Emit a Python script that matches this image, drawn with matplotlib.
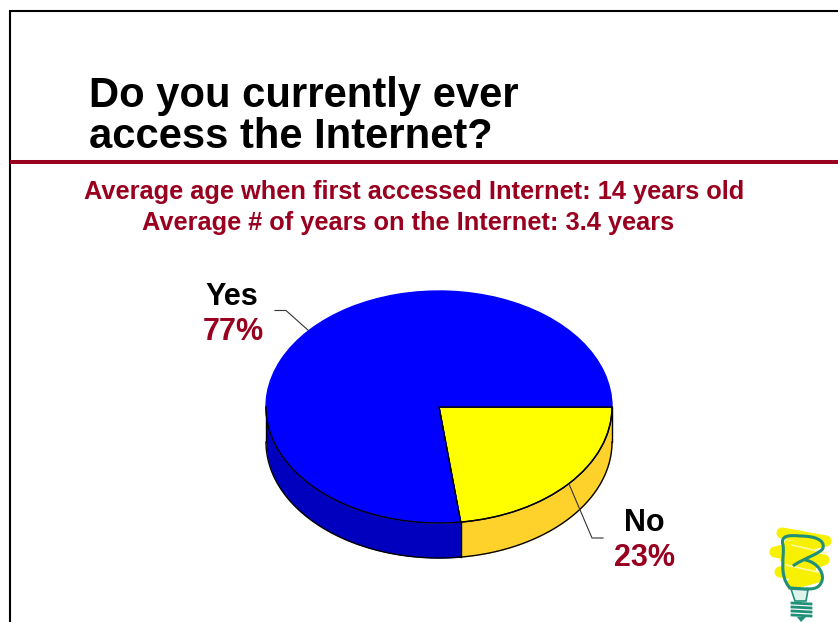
import numpy as np
import matplotlib
matplotlib.use("Agg")
import matplotlib.pyplot as plt
from matplotlib.patches import Polygon, PathPatch
from matplotlib.path import Path

plt.rcParams['font.family'] = ['Liberation Sans', 'DejaVu Sans']

categories = ["No", "Yes"]
shares = [23, 77]
title_lines = ["Do you currently ever", "access the Internet?"]
sub_lines = ["Average age when first accessed Internet: 14 years old",
             "Average # of years on the Internet: 3.4 years"]

RED = "#99001F"
TEAL = "#1F8F78"
W, H = 838, 622

fig = plt.figure(figsize=(W / 100, H / 100), dpi=100, facecolor="white")

# whole slide in pixel units, y pointing down
bg = fig.add_axes([0, 0, 1, 1])
bg.set_xlim(0, W)
bg.set_ylim(H, 0)
bg.axis("off")

bg.plot([10, 10, W], [H, 11, 11], color="black", lw=1.5, solid_joinstyle="miter", solid_capstyle="butt")
bg.plot([10, W], [162, 162], color=RED, lw=2.9, solid_capstyle="butt")

bg.text(89, 96, title_lines[0], fontsize=30.1, fontweight="bold", color="black", va="center", ha="left")
bg.text(89, 137, title_lines[1], fontsize=30.1, fontweight="bold", color="black", va="center", ha="left")
bg.text(414, 192, sub_lines[0], fontsize=18.3, fontweight="bold", color=RED, va="center", ha="center")
bg.text(408, 223, sub_lines[1], fontsize=18.3, fontweight="bold", color=RED, va="center", ha="center")

bg.text(232, 297, "Yes", fontsize=22, fontweight="bold", color="black", va="center", ha="center")
bg.text(233, 332, f"{shares[1]}%", fontsize=22, fontweight="bold", color=RED, va="center", ha="center")
bg.text(644, 523, "No", fontsize=22, fontweight="bold", color="black", va="center", ha="center")
bg.text(644, 558, f"{shares[0]}%", fontsize=22, fontweight="bold", color=RED, va="center", ha="center")

# pie with a wall below it, squashed by letting the axes keep a free aspect
left, right, top, rim, bottom = 266, 612, 291, 523, 558
ax = fig.add_axes([left / W, 1 - bottom / H, (right - left) / W, (bottom - top) / H])
depth = (bottom - rim) / ((rim - top) / 2)

no_end = -2 * np.pi * shares[0] / sum(shares)
t_no = np.linspace(0, no_end, 80)
t_yes = np.linspace(no_end, -np.pi, 120)
for t, col in [(t_no, "#FFD22B"), (t_yes, "#0000BE")]:
    ax.fill_between(np.cos(t), np.sin(t), np.sin(t) - depth, color=col, lw=0, zorder=1)
    ax.plot(np.cos(t), np.sin(t) - depth, color="black", lw=1.0, zorder=2)
for x in [np.cos(no_end), 1, -1]:
    y = np.sin(no_end) if x == np.cos(no_end) else 0
    ax.plot([x, x], [y, y - depth], color="black", lw=1.0, zorder=2)

wedges, _ = ax.pie(shares, startangle=0, counterclock=False, colors=["#FFFF00", "#0000FF"],
                   radius=1, wedgeprops={"edgecolor": "black", "linewidth": 1.0, "zorder": 3})
# the big slice has no outline along its top half, only the lower rim is edged
wedges[1].set_edgecolor("#0000FF")
ax.plot(np.cos(t_yes), np.sin(t_yes), color="black", lw=1.0, zorder=4)
ax.plot(np.cos(t_no), np.sin(t_no), color="black", lw=1.0, zorder=4)
ax.plot([1, 0, np.cos(no_end)], [0, 0, np.sin(no_end)], color="black", lw=1.0, zorder=4)
ax.set_aspect("auto")
ax.set_xlim(-1, 1)
ax.set_ylim(-1 - depth, 1)
ax.axis("off")
ax.patch.set_alpha(0)
for art in ax.get_children():
    art.set_clip_on(False)

# leader lines
bg.plot([275, 286, 309], [310.5, 310.5, 331], color="#333333", lw=0.8, zorder=5)
fig.add_artist(plt.Line2D([569 / W, 592 / W, 603 / W], [1 - 484 / H, 1 - 538 / H, 1 - 538 / H],
                          color="#333333", lw=0.8, zorder=5))

# bulb logo, yellow scribble first
bg.plot([782, 826, 775, 824, 780, 818, 792], [533, 541, 552, 560, 572, 577, 584],
        color="#F7F000", lw=8, solid_capstyle="round", solid_joinstyle="round", zorder=2)
bg.add_patch(Polygon([(785, 540), (815, 543), (816, 575), (790, 580), (780, 560)], closed=True,
                     facecolor="#F7F000", edgecolor="none", zorder=2))
bg.plot([792, 826], [545, 553], color="#FBFAA0", lw=1.2, zorder=3)
bg.plot([786, 822], [565, 573], color="#FBFAA0", lw=1.2, zorder=3)

M, C = Path.MOVETO, Path.CURVE4
upper = Path([(790, 588), (778, 575), (785, 555), (783, 545), (780, 535), (790, 535), (800, 536),
              (815, 536), (825, 540), (823, 548), (822, 553), (800, 560), (793, 566)],
             [M, C, C, C, C, C, C, C, C, C, C, C, C])
lower = Path([(805, 560), (818, 562), (826, 575), (821, 583), (818, 589), (812, 589), (806, 589)],
             [M, C, C, C, C, C, C])
bg.add_patch(PathPatch(upper, facecolor="none", edgecolor=TEAL, lw=2.2, zorder=4))
bg.add_patch(PathPatch(lower, facecolor="none", edgecolor=TEAL, lw=2.2, zorder=4))
bg.plot([790, 806], [588, 589], color=TEAL, lw=2.2, zorder=4)
bg.add_patch(Polygon([(791, 589), (808, 590), (806, 601), (795, 601)], closed=True,
                     facecolor="#DDF3EC", edgecolor=TEAL, lw=1.2, zorder=4))
for y in [603, 607, 611, 615]:
    bg.plot([792, 811], [y, y + 1], color=TEAL, lw=2, zorder=4)
bg.add_patch(Polygon([(797, 617), (806, 617), (801, 622)], closed=True, facecolor=TEAL, edgecolor="none", zorder=4))

fig.savefig("out.png", dpi=100)
